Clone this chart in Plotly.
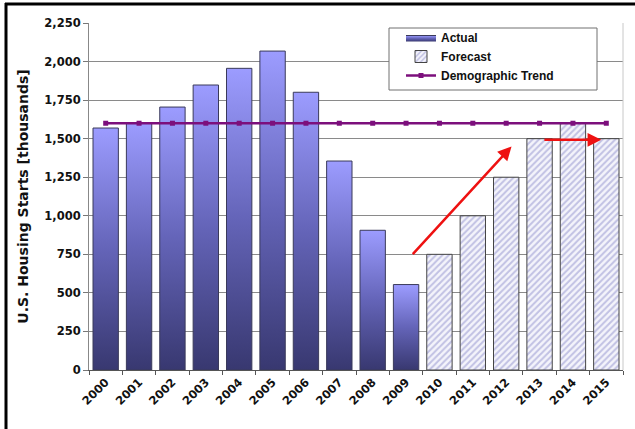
import plotly.graph_objects as go

# Housing starts, thousands of units
years = [str(y) for y in range(2000, 2016)]
actual_years = years[:10]
actual_values = [1569, 1603, 1705, 1848, 1956, 2068, 1801, 1355, 906, 554]
forecast_years = years[10:]
forecast_values = [750, 1000, 1250, 1500, 1600, 1500]
trend_value = 1600
trend_values = [trend_value] * len(years)

y_ticks = list(range(0, 2251, 250))

# Arrow annotations (x in category-index units, y in thousands)
arrow_up = dict(x0=9.16, y0=742, x1=12.16, y1=1450)
arrow_flat = dict(x0=13.1, y0=1493, x1=14.85, y1=1493)

W, H = 635, 429
L, R, T, B = 89, 12, 23, 59
BAR_HALF = 0.38

idx = {y: i for i, y in enumerate(years)}

fig = go.Figure()

# Actual bars: filled polygons so each bar carries its own vertical gradient
for k, (yr, v) in enumerate(zip(actual_years, actual_values)):
    c = idx[yr]
    fig.add_trace(go.Scatter(
        x=[c - BAR_HALF, c - BAR_HALF, c + BAR_HALF, c + BAR_HALF, c - BAR_HALF],
        y=[0, v, v, 0, 0],
        mode="lines",
        fill="toself",
        fillgradient=dict(type="vertical",
                          colorscale=[[0, "#383870"], [0.5, "#6464b8"], [1, "#9c9cff"]]),
        line=dict(color="#3a3a5a", width=1),
        name="Actual",
        legendgroup="actual",
        showlegend=(k == 0),
        hoverinfo="skip",
    ))

# Forecast bars: hatched
fig.add_trace(go.Bar(
    x=[idx[y] for y in forecast_years],
    y=forecast_values,
    width=2 * BAR_HALF,
    name="Forecast",
    marker=dict(
        color="white",
        line=dict(color="#444444", width=1),
        pattern=dict(shape="/", fgcolor="#8e8ecc", bgcolor="#f4f4fb", size=4.5, solidity=0.45),
    ),
))

# Demographic trend line
fig.add_trace(go.Scatter(
    x=list(range(len(years))),
    y=trend_values,
    mode="lines+markers",
    name="Demographic Trend",
    line=dict(color="#7c0f7c", width=2.5),
    marker=dict(symbol="square", size=5, color="#7c0f7c"),
))

for a in (arrow_up, arrow_flat):
    fig.add_annotation(
        x=a["x1"], y=a["y1"], ax=a["x0"], ay=a["y0"],
        xref="x", yref="y", axref="x", ayref="y",
        text="", showarrow=True, arrowhead=2, arrowsize=1.1,
        arrowwidth=2.5, arrowcolor="#ee1111",
    )

pw, ph = W - L - R, H - T - B


def px(xp):
    return (xp - L) / pw


def py(yp):
    return (H - B - yp) / ph


# Legend box and outer frame
fig.add_shape(type="rect", xref="paper", yref="paper",
              x0=px(389), x1=px(597), y0=py(90), y1=py(28),
              fillcolor="white", line=dict(color="#707070", width=1), layer="above")
fig.add_shape(type="line", xref="paper", yref="paper",
              x0=px(6), x1=px(6), y0=py(3), y1=py(H + 2),
              line=dict(color="black", width=3), layer="above")
fig.add_shape(type="line", xref="paper", yref="paper",
              x0=px(5), x1=px(W + 2), y0=py(4), y1=py(4),
              line=dict(color="black", width=3), layer="above")

tick_font = dict(family="DejaVu Sans", size=11.5, color="#111", weight="bold")

fig.update_layout(
    width=W, height=H,
    margin=dict(l=L, r=R, t=T, b=B, autoexpand=False),
    paper_bgcolor="white", plot_bgcolor="white",
    showlegend=True,
    legend=dict(
        x=px(401), y=py(23), xanchor="left", yanchor="top",
        bgcolor="rgba(0,0,0,0)", borderwidth=0,
        font=dict(family="Liberation Sans, Arial", size=12, color="#111", weight="bold"),
        itemwidth=30, tracegroupgap=0,
    ),
    xaxis=dict(
        range=[-0.5, len(years) - 0.5],
        tickmode="array", tickvals=list(range(len(years))), ticktext=years,
        tickangle=-45, tickfont=tick_font, ticks="",
        showgrid=False, zeroline=False,
        showline=True, linecolor="#555", linewidth=1, mirror=False,
        minor=dict(tick0=-0.5, dtick=1, ticks="outside", ticklen=4,
                   tickcolor="#555", showgrid=False),
    ),
    yaxis=dict(
        range=[0, 2250], tickmode="array", tickvals=y_ticks,
        tickformat=",", tickfont=tick_font,
        ticks="outside", ticklen=5, tickcolor="#777",
        showgrid=True, gridcolor="#8a8a8a", gridwidth=1, zeroline=False,
        showline=True, linecolor="#888", linewidth=1,
        title=dict(text="U.S. Housing Starts [thousands]", standoff=12,
                   font=dict(family="DejaVu Sans", size=14, color="#111", weight="bold")),
    ),
)

# Right-hand edge of the plot area
fig.add_shape(type="line", xref="paper", yref="paper", x0=1, x1=1, y0=0, y1=1,
              line=dict(color="#c8c8c8", width=1))

fig.write_html("out.html")
